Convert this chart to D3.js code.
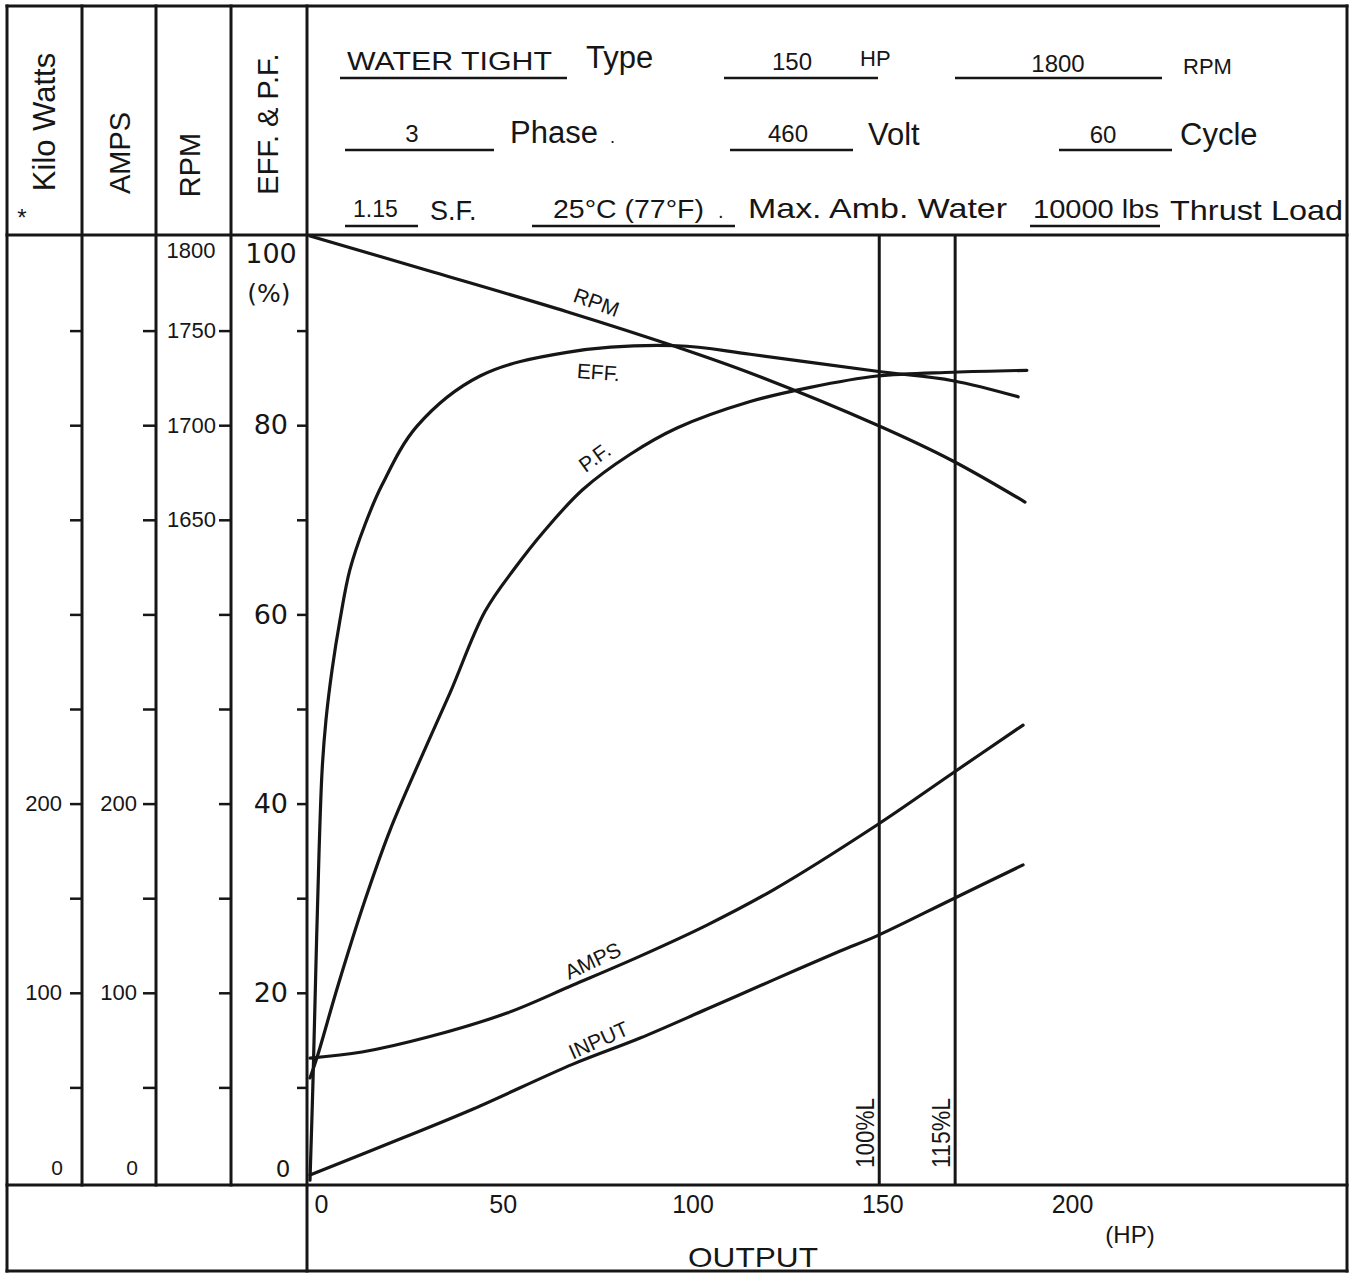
<!DOCTYPE html>
<html>
<head>
<meta charset="utf-8">
<script src="https://cdn.jsdelivr.net/npm/d3@7"></script>
<style>
body { margin: 0; background: #fff; }
svg { display: block; }
text { font-family: "Liberation Sans", Arial, sans-serif; fill: #161616; }
</style>
</head>
<body>
<svg class="main"></svg>
<script>
// nameplate
var motorType = "WATER TIGHT",
    ratedHP = "150",
    ratedRPM = "1800",
    phases = "3",
    volts = "460",
    cycles = "60",
    serviceFactor = "1.15",
    ambWater = "25°C (77°F)",
    thrustLoad = "10000 lbs";

// performance curves, output HP -> value
var rpmHP = [0, 32.4, 67.7, 96.7, 116, 149.4, 169.4, 188.4],
    rpmVal = [1800, 1781, 1760, 1741.3, 1727.6, 1700.1, 1681.1, 1659.4];

var effHP = [0, 0.8, 1.6, 2.4, 3.2, 4.2, 5.8, 7.9, 10.5, 14.5, 19, 28.2, 44.8, 67.7, 96.7, 116, 149.4, 169.4, 186.6],
    effVal = [0.2, 10.8, 23.5, 35.1, 43.6, 48.8, 54.1, 59.4, 64.7, 69.5, 73.7, 79.9, 85.2, 87.7, 88.4, 87.5, 85.7, 84.7, 83];

var pfHP = [0, 1.8, 7.4, 14.5, 21.1, 29, 36.9, 46.1, 54, 61.9, 71.9, 84.3, 96.7, 116, 131.8, 149.4, 169.4, 188.9],
    pfVal = [11, 13.1, 20.8, 29.8, 37.2, 44.6, 51.7, 60.3, 64.9, 68.9, 73.2, 76.9, 79.7, 82.5, 84, 85.2, 85.6, 85.8];

var ampsHP = [0, 13.7, 31.1, 51.9, 69.3, 87, 104.6, 122, 149.4, 169.4, 187.9],
    ampsVal = [65.5, 68.7, 76.6, 89.3, 104.1, 119.4, 135.8, 154.3, 188.7, 216.2, 241.5];

var inputHP = [0, 23.7, 43, 69.3, 87, 104.6, 122, 139.7, 149.4, 169.4, 187.9],
    inputVal = [3.7, 22.7, 38.6, 62.3, 76.1, 91.4, 106.7, 122.1, 130.1, 149.6, 167.6];

var loadHP = [150, 170],
    loadLabels = ["100%L", "115%L"];

// axes
var outputTicks = [0, 50, 100, 150, 200],
    kwTicks = [50, 100, 150, 200, 250, 300, 350, 400, 450],
    kwLabels = [100, 200],
    ampsTicks = [50, 100, 150, 200, 250, 300, 350, 400, 450],
    ampsLabels = [100, 200],
    rpmTicks = [1350, 1400, 1450, 1500, 1550, 1600, 1650, 1700, 1750],
    rpmLabels = [1650, 1700, 1750],
    pctTicks = [10, 20, 30, 40, 50, 60, 70, 80, 90],
    pctLabels = [20, 40, 60, 80];

var W = 1349, H = 1273,
    ink = "#161616",
    frame = {left: 7, right: 1347, top: 6, bottom: 1271, head: 235, base: 1185},
    cols = [7, 82, 156, 231, 307];

var svg = d3.select(".main").attr("width", W).attr("height", H);
svg.append("rect").attr("width", W).attr("height", H).attr("fill", "#fff");

var x = d3.scaleLinear().domain([0, 200]).range([310, 1069]),
    yPct = d3.scaleLinear().domain([0, 100]).range([1182, 236]),
    yRpm = d3.scaleLinear().domain([1300, 1800]).range(yPct.range()),
    yKw = d3.scaleLinear().domain([0, 500]).range(yPct.range()),
    yAmps = yKw.copy();

// frame
var frameLines = [
    [frame.left, frame.top, frame.right, frame.top],
    [frame.left, frame.bottom, frame.right, frame.bottom],
    [frame.left, frame.top, frame.left, frame.bottom],
    [frame.right, frame.top, frame.right, frame.bottom],
    [frame.left, frame.head, frame.right, frame.head],
    [frame.left, frame.base, frame.right, frame.base],
    [cols[1], frame.top, cols[1], frame.base],
    [cols[2], frame.top, cols[2], frame.base],
    [cols[3], frame.top, cols[3], frame.base],
    [cols[4], frame.top, cols[4], frame.bottom]
];
svg.append("g").selectAll("line")
    .data(frameLines).enter()
    .append("line")
    .attr("x1", function(d) { return d[0]; })
    .attr("y1", function(d) { return d[1]; })
    .attr("x2", function(d) { return d[2]; })
    .attr("y2", function(d) { return d[3]; })
    .attr("stroke", ink)
    .attr("stroke-width", 3)
    .attr("stroke-linecap", "square");

// column titles, rotated
var colTitles = [
    {text: "Kilo Watts", x: 55, y: 122, size: 31},
    {text: "AMPS", x: 130, y: 153, size: 29},
    {text: "RPM", x: 200, y: 165, size: 29},
    {text: "EFF. & P.F.", x: 278, y: 124, size: 29}
];
svg.append("g").selectAll("text")
    .data(colTitles).enter()
    .append("text")
    .attr("transform", function(d) { return "translate(" + d.x + "," + d.y + ") rotate(-90)"; })
    .attr("text-anchor", "middle")
    .style("font-size", function(d) { return d.size + "px"; })
    .text(function(d) { return d.text; });
svg.append("text")
    .attr("x", 22).attr("y", 226)
    .attr("text-anchor", "middle")
    .style("font-size", "24px")
    .text("*");

// side axes
function sideAxis(scale, xPos, values, labels, size, pad, font, fontSize) {
    var g = svg.append("g")
        .attr("transform", "translate(" + xPos + ",0)")
        .call(d3.axisLeft(scale)
            .tickValues(values)
            .tickSize(size)
            .tickPadding(pad)
            .tickFormat(function(d) { return labels.indexOf(d) >= 0 ? d : ""; }));
    g.select(".domain").remove();
    g.selectAll("line").attr("stroke", ink).attr("stroke-width", 2.5);
    g.selectAll("text")
        .style("fill", ink)
        .style("font-family", font)
        .style("font-size", fontSize + "px");
    return g;
}
sideAxis(yKw, cols[1], kwTicks, kwLabels, 12, 8, "Liberation Sans", 22);
sideAxis(yAmps, cols[2], ampsTicks, ampsLabels, 13, 6, "Liberation Sans", 22);
sideAxis(yRpm, cols[3], rpmTicks, rpmLabels, 12, 3, "Liberation Sans", 22);
sideAxis(yPct, cols[4], pctTicks, pctLabels, 10, 9, "DejaVu Sans", 27);

// end labels of the side scales
var endLabels = [
    {text: "0", x: 57, y: 1175, size: 21, font: "Liberation Sans"},
    {text: "0", x: 132, y: 1175, size: 21, font: "Liberation Sans"},
    {text: "1800", x: 191, y: 258, size: 22, font: "Liberation Sans"},
    {text: "100", x: 271, y: 263, size: 27, font: "DejaVu Sans"},
    {text: "(%)", x: 269, y: 302, size: 25, font: "DejaVu Sans"},
    {text: "0", x: 283, y: 1177, size: 23, font: "DejaVu Sans"}
];
svg.append("g").selectAll("text")
    .data(endLabels).enter()
    .append("text")
    .attr("x", function(d) { return d.x; })
    .attr("y", function(d) { return d.y; })
    .attr("text-anchor", "middle")
    .style("font-family", function(d) { return d.font; })
    .style("font-size", function(d) { return d.size + "px"; })
    .text(function(d) { return d.text; });

// output axis
var xAxis = svg.append("g")
    .attr("transform", "translate(0," + frame.base + ")")
    .call(d3.axisBottom(x).tickValues(outputTicks).tickSize(0).tickPadding(10));
xAxis.select(".domain").remove();
xAxis.selectAll("text")
    .style("fill", ink)
    .style("font-family", "Liberation Sans")
    .style("font-size", "25px")
    .attr("dx", function(d) { return d === 0 ? 11 : 3; });

svg.append("text")
    .attr("x", 1130).attr("y", 1243)
    .attr("text-anchor", "middle")
    .style("font-size", "24px")
    .text("(HP)");
svg.append("text")
    .attr("x", 753).attr("y", 1267)
    .attr("text-anchor", "middle")
    .attr("textLength", 130)
    .attr("lengthAdjust", "spacingAndGlyphs")
    .style("font-size", "28px")
    .text("OUTPUT");

// load lines
var loads = svg.append("g").selectAll("g")
    .data(d3.zip(loadHP, loadLabels)).enter()
    .append("g");
loads.append("line")
    .attr("x1", function(d) { return x(d[0]); })
    .attr("x2", function(d) { return x(d[0]); })
    .attr("y1", frame.head)
    .attr("y2", frame.base)
    .attr("stroke", ink)
    .attr("stroke-width", 3);
loads.append("text")
    .attr("transform", function(d) { return "translate(" + (x(d[0]) - 5) + ",1168) rotate(-90)"; })
    .attr("textLength", 70)
    .attr("lengthAdjust", "spacingAndGlyphs")
    .style("font-size", "25px")
    .text(function(d) { return d[1]; });

// curves
var curves = [
    {hp: rpmHP, val: rpmVal, scale: yRpm, name: "RPM", at: [75.5, 1765], rot: 20},
    {hp: effHP, val: effVal, scale: yPct, name: "EFF.", at: [76, 85.6], rot: 4},
    {hp: pfHP, val: pfVal, scale: yPct, name: "P.F.", at: [75, 76.6], rot: -36},
    {hp: ampsHP, val: ampsVal, scale: yAmps, name: "AMPS", at: [74.5, 117], rot: -25},
    {hp: inputHP, val: inputVal, scale: yKw, name: "INPUT", at: [76, 75], rot: -24}
];

curves.forEach(function(c) {
    var line = d3.line()
        .x(function(d) { return x(d[0]); })
        .y(function(d) { return c.scale(d[1]); })
        .curve(d3.curveCatmullRom.alpha(0.5));
    svg.append("path")
        .datum(d3.zip(c.hp, c.val))
        .attr("d", line)
        .attr("fill", "none")
        .attr("stroke", ink)
        .attr("stroke-width", 3.2)
        .attr("stroke-linecap", "round");
    svg.append("text")
        .attr("transform", "translate(" + x(c.at[0]) + "," + c.scale(c.at[1]) + ") rotate(" + c.rot + ")")
        .attr("text-anchor", "middle")
        .attr("dy", "0.35em")
        .style("font-size", "21px")
        .text(c.name);
});

// nameplate header
var header = [
    {text: motorType, x: 347, y: 70, size: 25, len: 205},
    {text: "Type", x: 586, y: 68, size: 31},
    {text: ratedHP, x: 792, y: 70, size: 24, anchor: "middle"},
    {text: "HP", x: 860, y: 66, size: 22},
    {text: ratedRPM, x: 1058, y: 72, size: 24, anchor: "middle"},
    {text: "RPM", x: 1183, y: 74, size: 22},
    {text: phases, x: 412, y: 142, size: 24, anchor: "middle"},
    {text: "Phase", x: 510, y: 143, size: 31},
    {text: ".", x: 610, y: 143, size: 18},
    {text: volts, x: 788, y: 142, size: 24, anchor: "middle"},
    {text: "Volt", x: 868, y: 145, size: 31},
    {text: cycles, x: 1103, y: 143, size: 24, anchor: "middle"},
    {text: "Cycle", x: 1180, y: 145, size: 31},
    {text: serviceFactor, x: 353, y: 217, size: 23},
    {text: "S.F.", x: 430, y: 220, size: 27},
    {text: ambWater, x: 553, y: 218, size: 25, len: 151},
    {text: ".", x: 718, y: 218, size: 20},
    {text: "Max. Amb. Water", x: 748, y: 218, size: 28, len: 259},
    {text: thrustLoad, x: 1033, y: 218, size: 25, len: 126},
    {text: "Thrust Load", x: 1170, y: 220, size: 28, len: 173}
];
var headerText = svg.append("g").selectAll("text")
    .data(header).enter()
    .append("text")
    .attr("x", function(d) { return d.x; })
    .attr("y", function(d) { return d.y; })
    .attr("text-anchor", function(d) { return d.anchor || "start"; })
    .style("font-size", function(d) { return d.size + "px"; })
    .text(function(d) { return d.text; });
headerText.filter(function(d) { return d.len; })
    .attr("textLength", function(d) { return d.len; })
    .attr("lengthAdjust", "spacingAndGlyphs");

var blanks = [
    [340, 567, 78], [724, 878, 78], [955, 1162, 78],
    [345, 494, 150], [730, 853, 150], [1059, 1172, 150],
    [345, 418, 226], [532, 735, 226], [1030, 1160, 226]
];
svg.append("g").selectAll("line")
    .data(blanks).enter()
    .append("line")
    .attr("x1", function(d) { return d[0]; })
    .attr("x2", function(d) { return d[1]; })
    .attr("y1", function(d) { return d[2]; })
    .attr("y2", function(d) { return d[2]; })
    .attr("stroke", ink)
    .attr("stroke-width", 2.5);
</script>
</body>
</html>
